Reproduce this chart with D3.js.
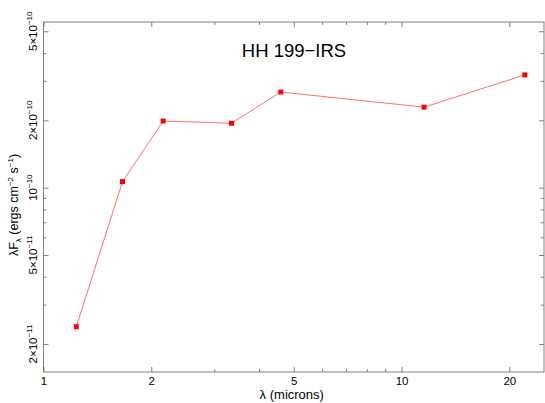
<!DOCTYPE html>
<html>
<head>
<meta charset="utf-8">
<script src="https://cdn.jsdelivr.net/npm/d3@7"></script>
<style>
	body { margin: 0; background: #fff; }
	svg { display: block; font-family: "Liberation Sans", Arial, Helvetica, sans-serif; }
</style>
</head>
<body>
<script>
	// DATA //

	var wavelengths = [ 1.235, 1.662, 2.159, 3.35, 4.6, 11.56, 22.1 ],
		fluxes = [ 2.39e-11, 1.064e-10, 1.985e-10, 1.94e-10, 2.675e-10, 2.29e-10, 3.19e-10 ],
		xLabelTicks = [ 1, 2, 5, 10, 20 ],
		yLabelTicks = [
			{ v: 2e-11, mant: '2\u00d710', exp: '\u221211' },
			{ v: 5e-11, mant: '5\u00d710', exp: '\u221211' },
			{ v: 1e-10, mant: '10', exp: '\u221210' },
			{ v: 2e-10, mant: '2\u00d710', exp: '\u221210' },
			{ v: 5e-10, mant: '5\u00d710', exp: '\u221210' }
		],
		title = 'HH 199\u2212IRS';


	// VARIABLES //

	var WIDTH = 545,
		HEIGHT = 403,
		LEFT = 43.5,
		RIGHT = 544,
		TOP = 22,
		BOTTOM = 372,
		AXIS = '#808080';

	var x = d3.scaleLog().domain( [ 1, 25 ] ).range( [ LEFT, RIGHT ] ),
		y = d3.scaleLog().domain( [ 1.5e-11, 5.5e-10 ] ).range( [ BOTTOM, TOP ] );

	// Every k*10^n tick inside the domain:
	function allTicks( domain ) {
		var out = [], n, k, v;
		for ( n = -12; n <= 2; n++ ) {
			for ( k = 1; k <= 9; k++ ) {
				v = k * Math.pow( 10, n );
				if ( v >= domain[0] * 0.9999 && v <= domain[1] ) {
					out.push( v );
				}
			}
		}
		return out;
	}
	function isMajor( v ) {
		var m = v / Math.pow( 10, Math.floor( Math.log10( v ) + 1e-9 ) );
		m = Math.round( m );
		return m === 1 || m === 2 || m === 5;
	}

	var xt = allTicks( x.domain() ),
		yt = allTicks( y.domain() ),
		xMinor = xt.filter( function ( v ) { return !isMajor( v ); } ),
		xMajor = xt.filter( isMajor ),
		yMinor = yt.filter( function ( v ) { return !isMajor( v ); } ),
		yMajor = yt.filter( isMajor );

	var svg = d3.select( 'body' ).append( 'svg' )
		.attr( 'width', WIDTH )
		.attr( 'height', HEIGHT );

	// Axes (ticks inward, on all four sides):
	function drawAxis( axisFn, scale, values, size, transform, labels ) {
		var g = svg.append( 'g' )
			.attr( 'transform', transform )
			.call( axisFn( scale )
				.tickValues( values )
				.tickSizeInner( -size )
				.tickSizeOuter( 0 )
				.tickPadding( 5 )
				.tickFormat( labels ? d3.format( 'd' ) : '' ) );
		g.select( '.domain' ).remove();
		g.selectAll( '.tick line' ).attr( 'stroke', AXIS );
		g.selectAll( '.tick text' )
			.attr( 'fill', '#000' )
			.style( 'font-size', '11.5px' )
			.style( 'font-family', '"Liberation Sans", Arial, sans-serif' );
		return g;
	}

	drawAxis( d3.axisBottom, x, xMinor, 3, 'translate(0,' + BOTTOM + ')', false );
	drawAxis( d3.axisBottom, x, xMajor, 5, 'translate(0,' + BOTTOM + ')', true );
	drawAxis( d3.axisTop, x, xMinor, 3, 'translate(0,' + TOP + ')', false );
	drawAxis( d3.axisTop, x, xMajor, 5, 'translate(0,' + TOP + ')', false );
	drawAxis( d3.axisLeft, y, yMinor, 3, 'translate(' + LEFT + ',0)', false );
	drawAxis( d3.axisLeft, y, yMajor, 5, 'translate(' + LEFT + ',0)', false );
	drawAxis( d3.axisRight, y, yMinor, 3, 'translate(' + RIGHT + ',0)', false );
	drawAxis( d3.axisRight, y, yMajor, 5, 'translate(' + RIGHT + ',0)', false );

	// Frame:
	svg.append( 'rect' )
		.attr( 'x', LEFT )
		.attr( 'y', TOP )
		.attr( 'width', RIGHT - LEFT )
		.attr( 'height', BOTTOM - TOP )
		.attr( 'fill', 'none' )
		.attr( 'stroke', AXIS )
		.attr( 'stroke-width', 1 );

	// Rotated y tick labels:
	var yl = svg.append( 'g' ).selectAll( 'text' )
		.data( yLabelTicks )
	  .enter().append( 'text' )
		.attr( 'transform', function ( d ) {
			return 'translate(36.5,' + y( d.v ) + ') rotate(-90)';
		})
		.attr( 'text-anchor', 'middle' )
		.style( 'font-size', '11.5px' );
	yl.append( 'tspan' ).text( function ( d ) { return d.mant; } );
	yl.append( 'tspan' )
		.attr( 'dy', -5 )
		.style( 'font-size', '8px' )
		.text( function ( d ) { return d.exp; } );

	// Axis titles:
	svg.append( 'text' )
		.attr( 'x', ( LEFT + RIGHT ) / 2 - 2 )
		.attr( 'y', 399 )
		.attr( 'text-anchor', 'middle' )
		.style( 'font-size', '13px' )
		.text( '\u03bb (microns)' );

	var yt2 = svg.append( 'text' )
		.attr( 'transform', 'translate(18,205) rotate(-90)' )
		.attr( 'text-anchor', 'middle' )
		.style( 'font-size', '12.5px' );
	yt2.append( 'tspan' ).text( '\u03bbF' );
	yt2.append( 'tspan' ).attr( 'dy', 3 ).style( 'font-size', '8px' ).text( '\u03bb' );
	yt2.append( 'tspan' ).attr( 'dy', -3 ).text( ' (ergs cm' );
	yt2.append( 'tspan' ).attr( 'dy', -5 ).style( 'font-size', '8px' ).text( '\u22122' );
	yt2.append( 'tspan' ).attr( 'dy', 5 ).text( ' s' );
	yt2.append( 'tspan' ).attr( 'dy', -5 ).style( 'font-size', '8px' ).text( '\u22121' );
	yt2.append( 'tspan' ).attr( 'dy', 5 ).text( ')' );

	// Title:
	svg.append( 'text' )
		.attr( 'x', 294 )
		.attr( 'y', 57 )
		.attr( 'text-anchor', 'middle' )
		.style( 'font-size', '18.5px' )
		.text( title );

	// Data line and markers:
	var pts = wavelengths.map( function ( w, i ) { return [ w, fluxes[ i ] ]; } );

	svg.append( 'path' )
		.datum( pts )
		.attr( 'fill', 'none' )
		.attr( 'stroke', '#ff6f6f' )
		.attr( 'stroke-width', 1 )
		.attr( 'd', d3.line()
			.x( function ( d ) { return x( d[0] ); } )
			.y( function ( d ) { return y( d[1] ); } ) );

	svg.append( 'g' ).selectAll( 'rect' )
		.data( pts )
	  .enter().append( 'rect' )
		.attr( 'x', function ( d ) { return x( d[0] ) - 2.5; } )
		.attr( 'y', function ( d ) { return y( d[1] ) - 2.5; } )
		.attr( 'width', 5 )
		.attr( 'height', 5 )
		.attr( 'fill', '#ff0000' );
</script>
</body>
</html>
